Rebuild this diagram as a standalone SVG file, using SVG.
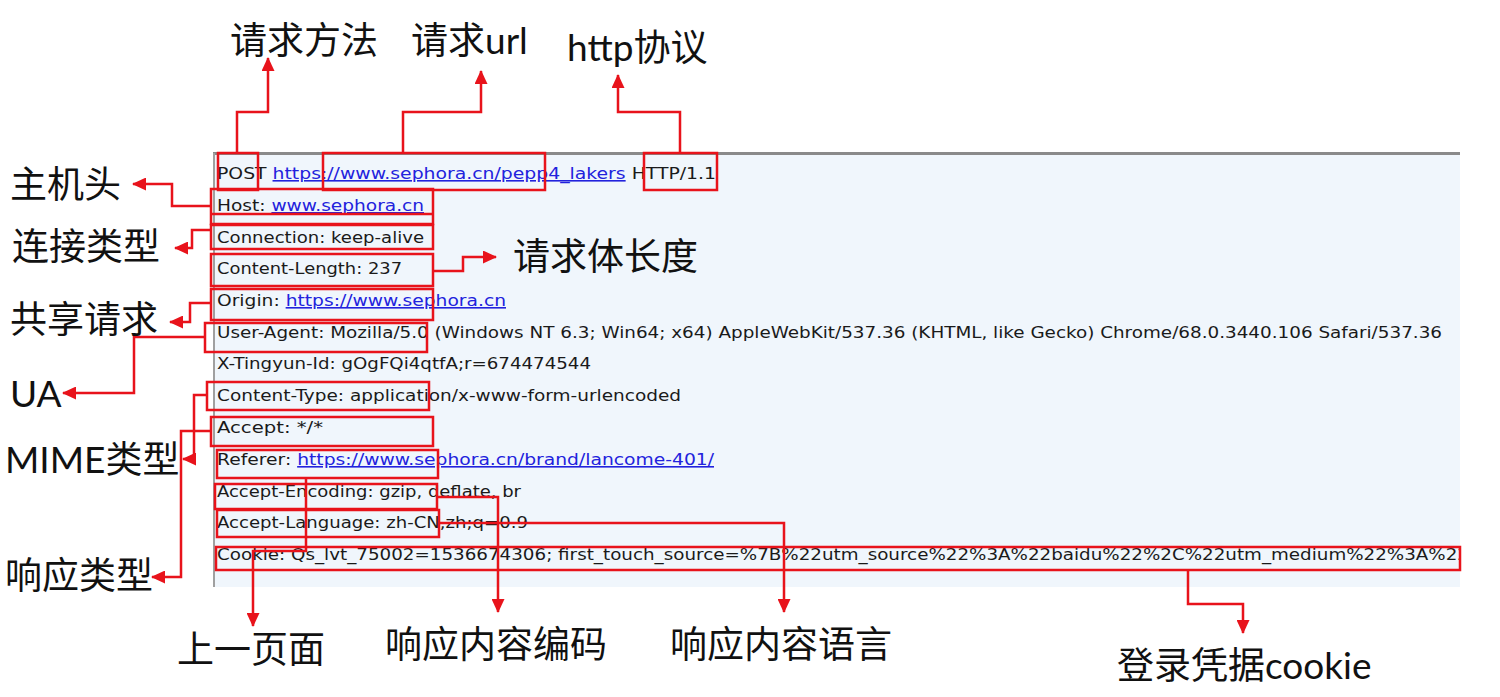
<svg xmlns="http://www.w3.org/2000/svg" width="1500" height="697" viewBox="0 0 1500 697">
<defs>
<style>
.lbl{font-family:Lato,"Noto Sans CJK SC",sans-serif;font-size:37px;fill:#111}
.ln{font-family:"DejaVu Sans",Verdana,sans-serif;font-size:16px;fill:#1a1a1a}
.lk{fill:#2222dd;text-decoration:underline}
.box{fill:none;stroke:#e8131b;stroke-width:2.5}
.con{fill:none;stroke:#e8131b;stroke-width:2.5;marker-end:url(#ah)}
</style>
<marker id="ah" markerUnits="userSpaceOnUse" markerWidth="14" markerHeight="13" refX="13" refY="6.5" orient="auto">
<path d="M0,0 L14,6.5 L0,13 z" fill="#e8131b"/>
</marker>
<clipPath id="pc"><rect x="213" y="153" width="1247" height="434"/></clipPath>
</defs>
<rect width="1500" height="697" fill="#fff"/>
<g id="panel">
<rect x="213" y="153" width="1247" height="434" fill="#f0f6fc"/>
<line x1="213" y1="153.5" x2="1460" y2="153.5" stroke="#8a8a8a" stroke-width="3"/>
<line x1="214" y1="153" x2="214" y2="587" stroke="#a0a0a0" stroke-width="2"/>
<g clip-path="url(#pc)">
<text class="ln" x="217" y="179" textLength="499" lengthAdjust="spacingAndGlyphs">POST <tspan class="lk">https://www.sephora.cn/pepp4_lakers</tspan> HTTP/1.1</text>
<text class="ln" x="217" y="211" textLength="207" lengthAdjust="spacingAndGlyphs">Host: <tspan class="lk">www.sephora.cn</tspan></text>
<text class="ln" x="217" y="243" textLength="207" lengthAdjust="spacingAndGlyphs">Connection: keep-alive</text>
<text class="ln" x="217" y="274" textLength="185" lengthAdjust="spacingAndGlyphs">Content-Length: 237</text>
<text class="ln" x="217" y="306" textLength="289" lengthAdjust="spacingAndGlyphs">Origin: <tspan class="lk">https://www.sephora.cn</tspan></text>
<text class="ln" x="217" y="338" textLength="1225" lengthAdjust="spacingAndGlyphs">User-Agent: Mozilla/5.0 (Windows NT 6.3; Win64; x64) AppleWebKit/537.36 (KHTML, like Gecko) Chrome/68.0.3440.106 Safari/537.36</text>
<text class="ln" x="217" y="369" textLength="374" lengthAdjust="spacingAndGlyphs">X-Tingyun-Id: gOgFQi4qtfA;r=674474544</text>
<text class="ln" x="217" y="401" textLength="464" lengthAdjust="spacingAndGlyphs">Content-Type: application/x-www-form-urlencoded</text>
<text class="ln" x="217" y="433" textLength="106" lengthAdjust="spacingAndGlyphs">Accept: */*</text>
<text class="ln" x="217" y="465" textLength="497" lengthAdjust="spacingAndGlyphs">Referer: <tspan class="lk">https://www.sephora.cn/brand/lancome-401/</tspan></text>
<text class="ln" x="217" y="497" textLength="304" lengthAdjust="spacingAndGlyphs">Accept-Encoding: gzip, deflate, br</text>
<text class="ln" x="217" y="528" textLength="311" lengthAdjust="spacingAndGlyphs">Accept-Language: zh-CN,zh;q=0.9</text>
<text class="ln" x="217" y="560" textLength="1252" lengthAdjust="spacingAndGlyphs">Cookie: Qs_lvt_75002=1536674306; first_touch_source=%7B%22utm_source%22%3A%22baidu%22%2C%22utm_medium%22%3A%22</text>
</g>
</g>
<g id="boxes">
<rect id="b-method" class="box" x="218" y="153" width="40" height="37"/>
<rect id="b-url" class="box" x="323" y="153" width="222" height="37"/>
<rect id="b-proto" class="box" x="644" y="153" width="73" height="37"/>
<g id="b-host"><rect class="box" x="211" y="189" width="222" height="35"/><line class="box" x1="211" y1="214" x2="433" y2="214"/></g>
<rect id="b-conn" class="box" x="211" y="225" width="222" height="24"/>
<rect id="b-len" class="box" x="211" y="254" width="222" height="32"/>
<rect id="b-origin" class="box" x="211" y="289" width="222" height="31"/>
<rect id="b-ua" class="box" x="205" y="323" width="222" height="29"/>
<rect id="b-ctype" class="box" x="207" y="382" width="222" height="28"/>
<rect id="b-accept" class="box" x="211" y="417" width="222" height="29"/>
<rect id="b-referer" class="box" x="217" y="450" width="221" height="28"/>
<rect id="b-enc" class="box" x="215" y="484" width="222" height="25"/>
<rect id="b-lang" class="box" x="217" y="510" width="222" height="27"/>
<rect id="b-cookie" class="box" x="216" y="547" width="1244" height="23"/>
</g>
<g id="connectors">
<path class="con" d="M237,153 V112 H268 V58"/>
<path class="con" d="M403,153 V112 H481 V71"/>
<path class="con" d="M680,153 V112 H618 V75"/>
<path class="con" d="M211,206 H172 V184 H133"/>
<path class="con" d="M211,230 H192 V248 H175"/>
<path class="con" d="M433,271 H463 V257 H496"/>
<path class="con" d="M211,303 H190 V322 H170"/>
<path class="con" d="M205,337 H134 V393 H63"/>
<path class="con" d="M207,395 H194 V459 H183"/>
<path class="con" d="M211,431 H181 V577 H152"/>
<path class="con" d="M306,478 V551 H253 V626"/>
<path class="con" d="M437,497 H498 V612"/>
<path class="con" d="M439,523 H784 V612"/>
<path class="con" d="M1188,570 V604 H1243 V633"/>
</g>
<g id="labels">
<g id="l-method"><text class="lbl" x="230" y="54">请求方法</text></g>
<g id="l-url"><text class="lbl" x="411" y="54">请求url</text></g>
<g id="l-proto"><text class="lbl" x="567" y="61">http协议</text></g>
<g id="l-host"><text class="lbl" x="10" y="198">主机头</text></g>
<g id="l-conn"><text class="lbl" x="12" y="260">连接类型</text></g>
<g id="l-len"><text class="lbl" x="513" y="270">请求体长度</text></g>
<g id="l-origin"><text class="lbl" x="10" y="333">共享请求</text></g>
<g id="l-ua"><text class="lbl" x="10" y="407">UA</text></g>
<g id="l-mime"><text class="lbl" x="5" y="473">MIME类型</text></g>
<g id="l-accept"><text class="lbl" x="5" y="589">响应类型</text></g>
<g id="l-referer"><text class="lbl" x="177" y="663">上一页面</text></g>
<g id="l-enc"><text class="lbl" x="385" y="658">响应内容编码</text></g>
<g id="l-lang"><text class="lbl" x="670" y="658">响应内容语言</text></g>
<g id="l-cookie"><text class="lbl" x="1117" y="679">登录凭据cookie</text></g>
</g>
</svg>
